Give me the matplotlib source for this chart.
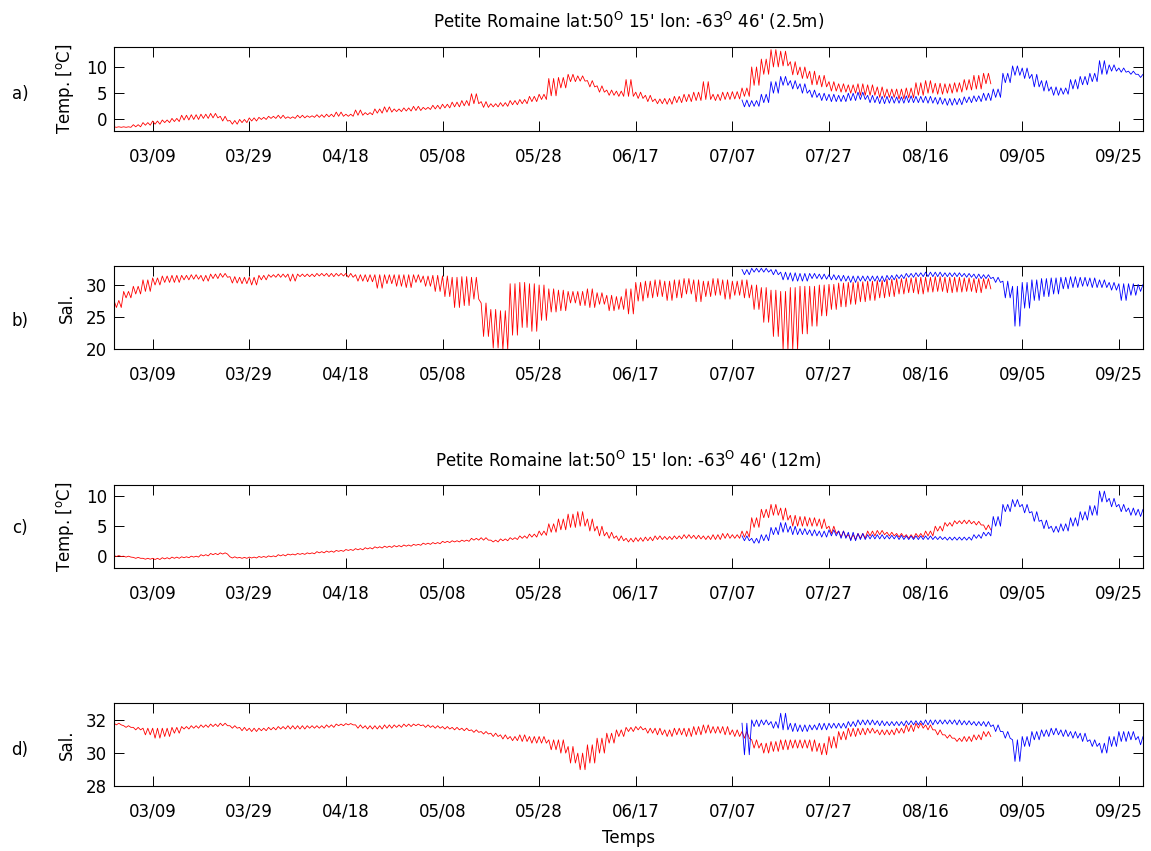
import numpy as np
import matplotlib
matplotlib.use('Agg')
import matplotlib.pyplot as plt
from datetime import date

plt.rcParams['font.family'] = 'DejaVu Sans'
plt.rcParams['mathtext.fontset'] = 'dejavusans'

# days counted from 03/01, red record every 2 days, blue record every 2 days
days_red = np.arange(0, 181, 2)
days_blue = np.arange(130, 213, 2)

xtick_labels = ['03/09', '03/29', '04/18', '05/08', '05/28', '06/17',
                '07/07', '07/27', '08/16', '09/05', '09/25']
x_end = '09/30'

titles = ["Petite Romaine lat:50$^{\\mathrm{O}}$ 15' lon: -63$^{\\mathrm{O}}$ 46' (2.5m)",
          "Petite Romaine lat:50$^{\\mathrm{O}}$ 15' lon: -63$^{\\mathrm{O}}$ 46' (12m)"]
panel_names = ['a)', 'b)', 'c)', 'd)']
ylabels = ['Temp. [$^{\\mathrm{o}}$C]', 'Sal.', 'Temp. [$^{\\mathrm{o}}$C]', 'Sal.']
yticks = [[0, 5, 10], [20, 25, 30], [0, 5, 10], [28, 30, 32]]
ylims = [(-2.2, 13.8), (20, 33), (-1.9, 11.8), (28, 33)]

# a) temperature 2.5 m  (high / low envelope every 2 days)
temp25_red_hi = [-1.4, -1.4, -1.0, -0.6, -0.3, -0.1, 0.2, 0.8, 0.9, 1.0,
                 1.15, 0.6, -0.2, 0.0, 0.3, 0.4, 0.6, 0.8, 0.5, 0.8,
                 0.7, 0.9, 1.0, 1.4, 1.0, 1.8, 1.3, 2.0, 2.4, 2.0,
                 2.2, 2.5, 2.3, 2.7, 2.9, 3.3, 3.6, 4.9, 3.4, 3.0,
                 3.2, 3.6, 3.8, 4.4, 4.8, 7.8, 8.0, 8.6, 8.3, 7.4,
                 6.4, 5.6, 5.4, 7.6, 5.2, 4.6, 3.9, 4.0, 4.4, 4.8,
                 5.2, 7.2, 4.8, 5.2, 5.3, 6.0, 10.0, 11.5, 13.3, 13.0,
                 11.0, 10.0, 9.2, 8.4, 7.2, 6.8, 6.6, 6.8, 6.6, 6.2,
                 5.8, 5.8, 6.0, 7.0, 7.4, 6.9, 6.8, 7.0, 7.6, 8.4,
                 8.8]
temp25_red_lo = [-1.5, -1.5, -1.4, -1.1, -0.9, -0.6, -0.4, -0.1, 0.0, 0.2,
                 0.3, -0.3, -0.9, -0.6, -0.3, 0.0, 0.2, 0.2, 0.2, 0.3,
                 0.4, 0.4, 0.5, 0.6, 0.6, 0.8, 0.9, 1.2, 1.4, 1.5,
                 1.6, 1.7, 1.9, 2.0, 2.2, 2.4, 2.6, 3.0, 2.3, 2.4,
                 2.5, 2.8, 3.0, 3.4, 3.8, 4.5, 6.0, 7.2, 7.3, 6.2,
                 5.2, 4.6, 4.4, 4.4, 4.0, 3.4, 3.0, 2.9, 3.2, 3.4,
                 3.6, 3.8, 3.6, 3.8, 3.9, 4.4, 6.5, 8.6, 10.0, 10.2,
                 8.5, 7.8, 6.6, 6.2, 5.4, 5.2, 5.0, 4.6, 4.6, 4.2,
                 4.2, 3.9, 4.1, 4.6, 5.0, 4.8, 5.0, 5.2, 5.6, 5.8,
                 6.8]
temp25_blue_hi = [3.7, 3.6, 4.8, 7.2, 8.2, 7.4, 6.8, 5.6, 5.0, 4.8,
                  4.6, 5.0, 5.2, 4.6, 4.4, 4.4, 4.3, 4.5, 4.4, 4.4,
                  4.2, 4.0, 4.0, 4.3, 4.5, 5.0, 5.8, 8.8, 10.2, 9.8,
                  8.6, 7.4, 6.2, 6.0, 7.6, 8.2, 8.8, 11.2, 10.4, 9.8,
                  9.2, 8.6]
temp25_blue_lo = [2.4, 2.5, 3.2, 5.0, 6.5, 5.8, 5.0, 4.2, 3.6, 3.4,
                  3.4, 3.6, 3.8, 3.2, 3.0, 3.1, 3.1, 3.2, 3.2, 3.1,
                  2.9, 2.7, 2.8, 3.2, 3.4, 3.6, 4.2, 7.0, 8.4, 7.8,
                  6.2, 5.4, 4.6, 4.8, 5.8, 6.6, 7.2, 8.6, 9.2, 9.0,
                  8.6, 8.0]

# b) salinity 2.5 m
sal25_red_hi = [27.6, 29.0, 29.8, 30.8, 31.1, 31.4, 31.5, 31.5, 31.6, 31.5,
                31.7, 31.8, 31.3, 31.2, 31.2, 31.5, 31.6, 31.7, 31.7, 31.7,
                31.7, 31.8, 31.8, 31.8, 31.8, 31.6, 31.6, 31.6, 31.6, 31.6,
                31.6, 31.6, 31.4, 31.5, 31.4, 31.2, 31.3, 31.2, 27.2, 26.2,
                26.0, 30.2, 30.4, 30.2, 30.0, 29.4, 29.2, 29.0, 29.0, 29.4,
                28.8, 28.4, 28.2, 29.4, 30.4, 30.6, 30.8, 30.6, 30.8, 31.0,
                30.8, 30.6, 31.0, 30.8, 30.6, 30.8, 30.0, 29.6, 29.2, 29.0,
                29.6, 29.8, 29.8, 30.0, 30.1, 30.3, 30.4, 30.5, 30.6, 30.7,
                30.9, 31.0, 31.1, 31.2, 31.2, 31.3, 31.2, 31.2, 31.1, 31.0,
                31.0]
sal25_red_lo = [26.5, 28.0, 28.6, 29.0, 30.0, 30.4, 30.4, 30.8, 30.9, 30.6,
                31.0, 31.2, 30.3, 30.2, 30.0, 30.8, 31.2, 31.2, 30.6, 31.3,
                31.3, 31.4, 31.3, 31.4, 31.2, 30.6, 30.5, 29.5, 30.2, 29.8,
                29.6, 30.4, 29.8, 29.0, 28.2, 26.5, 26.8, 27.8, 22.0, 20.2,
                20.0, 22.2, 23.4, 22.8, 24.5, 25.8, 26.0, 27.2, 26.8, 26.5,
                27.0, 26.0, 26.2, 25.5, 27.5, 28.0, 28.2, 27.6, 28.0, 28.6,
                27.4, 28.2, 28.4, 27.8, 28.4, 28.0, 26.2, 24.2, 22.0, 20.0,
                20.0, 22.4, 23.6, 25.2, 26.2, 26.6, 27.0, 27.4, 27.6, 28.0,
                28.2, 28.6, 28.8, 28.6, 28.9, 29.0, 28.8, 28.9, 29.0, 28.8,
                29.4]
sal25_blue_hi = [32.4, 32.6, 32.6, 32.4, 32.0, 31.9, 31.8, 31.8, 31.7, 31.6,
                 31.5, 31.4, 31.4, 31.4, 31.4, 31.5, 31.6, 31.8, 31.9, 32.0,
                 32.0, 31.9, 31.9, 31.8, 31.7, 31.6, 31.2, 30.6, 29.8, 30.4,
                 30.8, 31.0, 31.1, 31.2, 31.3, 31.2, 31.1, 30.8, 30.4, 30.2,
                 30.2, 30.1]
sal25_blue_lo = [31.6, 32.0, 32.0, 31.6, 30.8, 30.6, 30.6, 31.0, 30.9, 30.8,
                 30.6, 30.4, 30.6, 30.6, 30.5, 30.8, 31.0, 31.2, 31.3, 31.3,
                 31.3, 31.3, 31.3, 31.2, 31.0, 31.0, 30.4, 28.0, 23.6, 26.4,
                 27.6, 28.2, 28.6, 29.4, 29.6, 29.8, 29.6, 29.6, 29.2, 27.6,
                 28.4, 29.0]

# c) temperature 12 m
temp12_red_hi = [0.15, 0.05, -0.15, -0.3, -0.3, -0.2, -0.1, -0.05, 0.05, 0.3,
                 0.5, 0.6, -0.05, -0.15, -0.1, 0.0, 0.1, 0.3, 0.4, 0.5,
                 0.6, 0.8, 0.9, 1.0, 1.15, 1.3, 1.45, 1.6, 1.7, 1.8,
                 1.9, 2.0, 2.2, 2.3, 2.5, 2.6, 2.7, 3.0, 3.1, 2.7,
                 2.9, 3.1, 3.4, 3.7, 4.2, 5.4, 6.2, 7.0, 7.4, 6.2,
                 5.0, 4.0, 3.4, 3.0, 3.1, 3.2, 3.4, 3.3, 3.4, 3.6,
                 3.5, 3.4, 3.6, 3.8, 3.6, 4.2, 6.4, 7.8, 8.6, 8.0,
                 6.8, 6.6, 6.4, 6.2, 5.0, 4.2, 3.6, 3.8, 4.2, 4.3,
                 4.0, 3.8, 3.6, 3.8, 4.2, 5.0, 5.6, 5.9, 6.0, 5.8,
                 5.2]
temp12_red_lo = [0.0, -0.1, -0.3, -0.45, -0.5, -0.4, -0.3, -0.2, -0.1, 0.1,
                 0.3, 0.4, -0.25, -0.3, -0.25, -0.15, -0.05, 0.1, 0.25, 0.35,
                 0.45, 0.6, 0.7, 0.85, 1.0, 1.1, 1.25, 1.4, 1.5, 1.6,
                 1.7, 1.85, 2.0, 2.1, 2.3, 2.4, 2.5, 2.7, 2.7, 2.4,
                 2.6, 2.8, 3.0, 3.2, 3.5, 4.0, 4.4, 4.8, 5.0, 4.2,
                 3.4, 3.0, 2.6, 2.4, 2.5, 2.6, 2.8, 2.8, 2.9, 3.0,
                 2.9, 2.8, 2.8, 3.0, 3.0, 3.2, 4.8, 6.4, 6.8, 6.0,
                 5.0, 5.0, 5.0, 4.6, 3.8, 3.2, 2.8, 3.0, 3.4, 3.6,
                 3.4, 3.2, 3.0, 3.2, 3.4, 4.2, 5.0, 5.4, 5.4, 5.2,
                 4.4]
temp12_blue_hi = [3.4, 3.0, 3.6, 4.8, 5.6, 5.0, 4.6, 4.4, 4.2, 4.4,
                  4.2, 4.0, 3.8, 3.6, 3.6, 3.5, 3.5, 3.4, 3.4, 3.4,
                  3.3, 3.2, 3.2, 3.2, 3.6, 4.0, 6.6, 8.6, 9.4, 8.6,
                  7.4, 6.0, 5.0, 5.4, 6.4, 7.4, 8.4, 10.8, 9.6, 8.6,
                  8.0, 7.8]
temp12_blue_lo = [2.6, 2.2, 2.6, 3.6, 4.0, 3.6, 3.6, 3.4, 3.2, 3.4,
                  3.0, 2.6, 2.8, 2.9, 2.9, 2.9, 2.8, 2.8, 2.8, 2.8,
                  2.8, 2.7, 2.7, 2.7, 3.0, 3.4, 5.0, 7.4, 8.2, 7.2,
                  5.8, 4.6, 4.0, 4.2, 5.0, 6.0, 6.8, 9.0, 8.2, 7.4,
                  6.8, 6.6]

# d) salinity 12 m
sal12_red_hi = [31.8, 31.65, 31.55, 31.5, 31.5, 31.5, 31.55, 31.6, 31.65, 31.7,
                31.75, 31.8, 31.65, 31.55, 31.5, 31.5, 31.55, 31.6, 31.65, 31.65,
                31.65, 31.65, 31.7, 31.75, 31.78, 31.7, 31.65, 31.65, 31.7, 31.7,
                31.75, 31.75, 31.7, 31.65, 31.6, 31.55, 31.5, 31.4, 31.3, 31.2,
                31.1, 31.0, 31.1, 31.0, 31.0, 30.8, 30.8, 30.4, 30.0, 30.5,
                30.9, 31.2, 31.4, 31.55, 31.6, 31.5, 31.5, 31.4, 31.5, 31.5,
                31.6, 31.7, 31.6, 31.6, 31.4, 31.3, 30.8, 30.6, 30.7, 30.8,
                30.8, 30.8, 30.8, 30.6, 31.0, 31.3, 31.5, 31.5, 31.5, 31.4,
                31.4, 31.5, 31.7, 31.8, 31.7, 31.4, 31.1, 30.9, 31.0, 31.1,
                31.3]
sal12_red_lo = [31.7, 31.55, 31.4, 31.1, 30.9, 31.0, 31.2, 31.45, 31.5, 31.55,
                31.6, 31.65, 31.5, 31.35, 31.3, 31.35, 31.4, 31.45, 31.45, 31.45,
                31.5, 31.5, 31.55, 31.65, 31.7, 31.5, 31.45, 31.45, 31.5, 31.55,
                31.6, 31.65, 31.55, 31.5, 31.45, 31.4, 31.35, 31.25, 31.15, 31.0,
                30.85, 30.75, 30.7, 30.6, 30.6, 30.2, 30.0, 29.4, 29.0, 29.4,
                30.0, 30.6, 31.0, 31.3, 31.4, 31.2, 31.1, 31.0, 31.1, 31.0,
                31.1, 31.2, 31.2, 31.1, 31.0, 30.9, 30.3, 30.0, 30.1, 30.2,
                30.3, 30.3, 30.1, 29.9, 30.3, 30.8, 31.0, 31.1, 31.2, 31.1,
                31.1, 31.2, 31.3, 31.5, 31.4, 31.1, 30.9, 30.7, 30.7, 30.8,
                31.0]
sal12_blue_hi = [31.8, 32.0, 32.0, 31.9, 32.4, 31.8, 31.7, 31.7, 31.8, 31.8,
                 31.8, 31.9, 32.0, 32.0, 31.95, 31.9, 31.9, 31.95, 31.95, 32.0,
                 32.0, 32.0, 32.0, 31.95, 31.9, 31.9, 31.7, 31.3, 30.8, 31.0,
                 31.3, 31.4, 31.5, 31.4, 31.3, 31.2, 30.8, 30.6, 31.0, 31.3,
                 31.3, 31.0]
sal12_blue_lo = [29.9, 31.6, 31.7, 31.5, 31.4, 31.3, 31.3, 31.4, 31.4, 31.5,
                 31.5, 31.6, 31.7, 31.7, 31.65, 31.65, 31.65, 31.7, 31.7, 31.7,
                 31.75, 31.75, 31.7, 31.7, 31.65, 31.6, 31.3, 30.9, 29.5, 30.4,
                 30.8, 31.0, 31.1, 31.0, 30.9, 30.7, 30.4, 30.0, 30.4, 30.7,
                 30.8, 30.5]


def day_of(label):
    m, d = label.split('/')
    return (date(2010, int(m), int(d)) - date(2010, 3, 1)).days


def tidal(days, hi, lo):
    # each 2-day reading drawn as two high/low swings (roughly one per day)
    offs = np.array([0.0, 0.5, 1.0, 1.5])
    x = (days[:, None] + offs).ravel()
    y = np.column_stack([hi, lo, hi, lo]).ravel()
    return x, y


panels = [
    (temp25_red_hi, temp25_red_lo, temp25_blue_hi, temp25_blue_lo),
    (sal25_red_hi, sal25_red_lo, sal25_blue_hi, sal25_blue_lo),
    (temp12_red_hi, temp12_red_lo, temp12_blue_hi, temp12_blue_lo),
    (sal12_red_hi, sal12_red_lo, sal12_blue_hi, sal12_blue_lo),
]

fig = plt.figure(figsize=(11.51, 8.51), dpi=100)
left, width = 114 / 1151, 1029 / 1151
boxes = [(131, 84), (349.3, 83.6), (568, 83), (786.3, 83)]
label_y = [94, 321, 528, 750]

xticks = [day_of(s) for s in xtick_labels]

for i, (rh, rl, bh, bl) in enumerate(panels):
    bot, h = boxes[i]
    ax = fig.add_axes([left, (851 - bot) / 851, width, h / 851])
    x, y = tidal(days_red, np.array(rh), np.array(rl))
    ax.plot(x, y, color=(1, 0, 0), lw=0.6)
    x, y = tidal(days_blue, np.array(bh), np.array(bl))
    ax.plot(x, y, color=(0, 0, 1), lw=0.6)

    ax.set_xlim(0, day_of(x_end))
    ax.set_ylim(*ylims[i])
    ax.set_xticks(xticks)
    ax.set_xticklabels(xtick_labels)
    ax.set_yticks(yticks[i])
    ax.tick_params(direction='in', length=7.5, width=0.7, top=True, right=True,
                   labelsize=12)
    ax.tick_params(axis='x', pad=12)
    ax.tick_params(axis='y', pad=5)
    for sp in ax.spines.values():
        sp.set_linewidth(0.8)

    ax.set_ylabel(ylabels[i], fontsize=12)
    ax.yaxis.set_label_coords(-0.037, 0.5)
    fig.text(20 / 1151, 1 - label_y[i] / 851, panel_names[i], fontsize=12,
             ha='center', va='center')

    if i == 0:
        ax.set_title(titles[0], fontsize=12, pad=14)
    if i == 2:
        ax.set_title(titles[1], fontsize=12, pad=13)
    if i == 3:
        ax.set_xlabel('Temps', fontsize=12, va='top')
        ax.xaxis.set_label_coords(0.5, -0.52)

fig.savefig('out.png', dpi=100)
